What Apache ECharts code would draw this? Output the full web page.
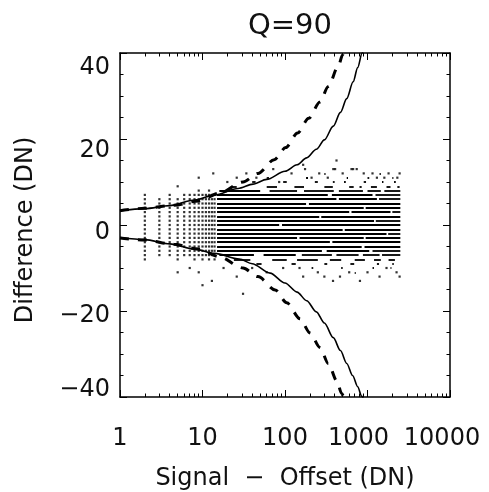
<!DOCTYPE html>
<html><head><meta charset="utf-8">
<script src="https://cdn.jsdelivr.net/npm/echarts@6/dist/echarts.min.js"></script>
<style>html,body{margin:0;padding:0;background:#fff}#c{width:489px;height:492px}</style>
</head><body><div id="c"></div>
<script>
// ---- tick labels / ticks ----
const xMajorTicks = [1, 10, 100, 1000, 10000];
const xMinorTicks = [2,3,4,5,6,7,8,9, 20,30,40,50,60,70,80,90, 200,300,400,500,600,700,800,900, 2000,3000,4000,5000,6000,7000,8000,9000];
const yTickLabels = [-40, -20, 0, 20, 40];

// ---- curves ----
const solidUpperX = [1, 2, 4, 8, 14, 27, 41, 60, 100, 140, 183, 240, 300, 385, 470, 560, 670, 760, 860, 960];
const solidUpperY = [3.3, 3.8, 4.5, 5.8, 7.0, 8.5, 9.5, 10.6, 12.5, 14.0, 15.6, 17.6, 19.8, 23.0, 26.2, 29.4, 33.3, 36.6, 40.0, 43.2];
const solidLowerX = [1, 2, 4, 8, 14, 28, 40, 66, 100, 140, 183, 240, 300, 385, 470, 560, 660, 760, 850, 950];
const solidLowerY = [-2.9, -3.4, -4.4, -5.6, -6.6, -7.9, -9.0, -11.2, -13.5, -15.6, -17.6, -20.2, -22.8, -26.2, -29.2, -32.2, -35.0, -37.6, -39.8, -42.2];
const dashUpperX = [1, 2, 4.5, 9, 16, 31, 47, 74, 102, 142, 194, 265, 335, 443, 500, 540];
const dashUpperY = [3.3, 3.9, 4.6, 5.6, 7.4, 10.0, 12.0, 15.2, 18.0, 21.4, 24.8, 28.6, 32.2, 37.0, 39.6, 41.4];
const dashLowerX = [1, 2, 4.5, 9, 16, 31, 47, 76, 105, 152, 201, 266, 335, 423, 487, 540];
const dashLowerY = [-3.0, -3.5, -4.5, -5.6, -7.4, -10.0, -12.0, -15.1, -18.1, -21.8, -25.1, -28.5, -32.2, -36.2, -39.2, -41.4];

// ---- scatter: low-signal columns (integer signal, every integer difference from lo to hi) ----
const colX  = [2, 3, 4, 5, 6, 7, 8, 9, 10, 11, 12, 13, 14];
const colLo = [-8, -7, -7, -8, -7, -7, -8, -7, -8, -7, -8, -7, -8];
const colHi = [7, 6, 7, 6, 7, 7, 7, 8, 7, 7, 8, 7, 7];

// ---- scatter: runs of points at integer differences (level, fromSignal, toSignal) ----
const runs = [
  [12, 300, 310], [12, 1400, 1450],
  [11, 60, 64], [11, 180, 190], [11, 560, 580], [11, 1000, 1050], [11, 2000, 2060],
  [10, 40, 44], [10, 95, 105], [10, 230, 250], [10, 380, 400], [10, 520, 545], [10, 900, 960], [10, 1500, 1560], [10, 2100, 2200],
  [9, 22, 26], [9, 60, 80], [9, 130, 170], [9, 300, 380], [9, 600, 680], [9, 800, 850], [9, 1100, 1300], [9, 1700, 1900], [9, 2300, 2450],
  [8, 16, 50], [8, 65, 140], [8, 170, 390], [8, 450, 880], [8, 1000, 1450], [8, 1600, 2500],
  [7, 15, 330], [7, 370, 1150], [7, 1250, 2500],
  [6, 15, 420], [6, 450, 1300], [6, 1380, 2500],
  [5, 15, 180], [5, 195, 2500],
  [4, 15, 900], [4, 950, 2500],
  [3, 15, 600], [3, 640, 1900], [3, 2000, 2500],
  [2, 15, 260], [2, 275, 2500],
  [1, 15, 1200], [1, 1260, 2500],
  [0, 15, 85], [0, 92, 2500],
  [-1, 15, 500], [-1, 530, 2500],
  [-2, 15, 1700], [-2, 1780, 2500],
  [-3, 15, 140], [-3, 150, 900], [-3, 950, 2500],
  [-4, 15, 350], [-4, 375, 2500],
  [-5, 15, 850], [-5, 920, 2500],
  [-6, 15, 280], [-6, 320, 1050], [-6, 1150, 2500],
  [-7, 16, 42], [-7, 55, 135], [-7, 160, 370], [-7, 420, 780], [-7, 880, 1400], [-7, 1500, 2500],
  [-8, 24, 38], [-8, 70, 105], [-8, 140, 250], [-8, 350, 480], [-8, 700, 930], [-8, 1200, 1450], [-8, 1800, 2150],
  [-9, 45, 52], [-9, 120, 135], [-9, 300, 325], [-9, 620, 690], [-9, 1300, 1380], [-9, 2000, 2080],
  [-10, 210, 220], [-10, 480, 500], [-10, 1150, 1200], [-10, 1900, 1950],
  [-11, 700, 720]
];

// ---- scatter: isolated outliers [signal, difference] ----
const outliers = [
  [5, 9], [9, 11], [13.5, 12], [20, 10], [26, 11], [34, 12], [45, 11], [72, 13], [85, 10], [120, 12], [166, 14], [175, 13],
  [210, 11], [260, 12], [330, 11], [385, 13], [405, 13], [421, 15], [500, 12], [640, 13], [670, 13], [740, 13], [900, 12],
  [1150, 12], [1300, 11], [1600, 11], [1800, 12], [2300, 11], [2450, 12],
  [5, -11], [7, -10], [9, -11], [10, -14], [13, -13], [18, -10], [26, -12], [31, -16], [40, -10], [60, -11], [95, -10], [150, -10],
  [166, -12], [250, -11], [300, -12], [382, -13], [464, -12], [600, -11], [810, -13], [1000, -11], [1400, -12], [1700, -10], [2250, -11], [2450, -12]
];

const FONT = 'DejaVu Sans';
const INK = '#111';

const zip = (xs, ys) => xs.map((x, i) => [x, ys[i]]);
const colPts = [];
colX.forEach((x, i) => { for (let v = colLo[i]; v <= colHi[i]; v++) colPts.push([x, v]); });
const runLines = runs.map(r => ({ coords: [[r[1], r[0]], [r[2], r[0]]] }));

const yShift = { '40': 15, '20': 12, '0': 8, '-20': 5, '-40': -7 };
const yRich = {};
yTickLabels.forEach(v => {
  const d = yShift[String(v)];
  yRich['k' + (v < 0 ? 'm' + (-v) : v)] = {
    fontSize: 24, fontFamily: FONT, color: INK,
    padding: d >= 0 ? [2 * d, 0, 0, 0] : [0, 0, -2 * d, 0]
  };
});
const xRich = {
  a: { fontSize: 24, fontFamily: FONT, color: INK },
  b: { fontSize: 24, fontFamily: FONT, color: INK, padding: [0, 18, 0, 0] },
  c: { fontSize: 24, fontFamily: FONT, color: INK, padding: [0, 16, 0, 0] }
};

const axisLineStyle = { color: '#000', width: 1.5 };
const gridRect = { left: 120, right: 39, top: 53, bottom: 95, containLabel: false, outerBoundsMode: 'none' };

function logAxis(grid, pos, ticks, len, showLine, labels) {
  const ax = {
    gridIndex: grid, type: 'log', logBase: 10, min: 1, max: 10000, position: pos,
    axisLine: { show: showLine, onZero: false, lineStyle: axisLineStyle },
    axisTick: { show: true, inside: true, length: len, customValues: ticks, lineStyle: { color: '#000', width: 1 } },
    axisLabel: { show: false },
    splitLine: { show: false }, minorTick: { show: false }, minorSplitLine: { show: false }
  };
  if (labels) {
    ax.axisLabel = {
      show: true, customValues: xMajorTicks, margin: 30,
      formatter: v => {
        const n = Math.round(v);
        const k = n === 1000 ? 'b' : (n === 10000 ? 'c' : 'a');
        return '{' + k + '|' + n + '}';
      },
      rich: xRich
    };
    ax.name = 'Signal  \u2212  Offset (DN)';
    ax.nameLocation = 'middle';
    ax.nameGap = 70;
    ax.nameTextStyle = { fontSize: 24, fontFamily: FONT, color: INK };
  }
  return ax;
}

function valAxis(grid, pos, labels) {
  const ax = {
    gridIndex: grid, type: 'value', min: -40, max: 40, interval: 20, position: pos,
    axisLine: { show: true, onZero: false, lineStyle: axisLineStyle },
    axisTick: { show: true, inside: true, length: 7, lineStyle: { color: '#000', width: 1 } },
    minorTick: { show: true, splitNumber: 4, length: 3.5, lineStyle: { color: '#000', width: 1 } },
    axisLabel: { show: false },
    splitLine: { show: false }, minorSplitLine: { show: false }
  };
  if (labels) {
    ax.axisLabel = {
      show: true, margin: 10,
      formatter: v => {
        const key = 'k' + (v < 0 ? 'm' + (-v) : v);
        return '{' + key + '|' + (v < 0 ? '\u2212' + (-v) : String(v)) + '}';
      },
      rich: yRich
    };
    ax.name = 'Difference (DN)';
    ax.nameLocation = 'middle';
    ax.nameGap = 82;
    ax.nameTextStyle = { fontSize: 24, fontFamily: FONT, color: INK, padding: [0, 10, 0, 0] };
  }
  return ax;
}

const chart = echarts.init(document.getElementById('c'), null, { renderer: 'canvas' });
chart.setOption({
  animation: false,
  backgroundColor: '#fff',
  title: {
    text: 'Q=90', left: 285, top: 7, textAlign: 'center',
    textStyle: { fontSize: 29, fontWeight: 'normal', fontFamily: FONT, color: INK }
  },
  grid: [Object.assign({}, gridRect), Object.assign({}, gridRect)],
  xAxis: [
    logAxis(0, 'bottom', xMajorTicks, 7, true, true),
    logAxis(0, 'top', xMajorTicks, 7, true, false),
    logAxis(1, 'bottom', xMinorTicks, 3.5, false, false),
    logAxis(1, 'top', xMinorTicks, 3.5, false, false)
  ],
  yAxis: [
    valAxis(0, 'left', true),
    valAxis(0, 'right', false),
    { gridIndex: 1, type: 'value', min: -40, max: 40, show: false }
  ],
  series: [
    {
      type: 'lines', coordinateSystem: 'cartesian2d', xAxisIndex: 0, yAxisIndex: 0,
      data: runLines, lineStyle: { color: '#000', width: 1.8, opacity: 1 }, silent: true, z: 2
    },
    {
      type: 'scatter', xAxisIndex: 0, yAxisIndex: 0, data: colPts,
      symbol: 'rect', symbolSize: 2.2, itemStyle: { color: '#000' }, silent: true, z: 2
    },
    {
      type: 'scatter', xAxisIndex: 0, yAxisIndex: 0, data: outliers,
      symbol: 'rect', symbolSize: 2.2, itemStyle: { color: '#000' }, silent: true, z: 2
    },
    {
      type: 'line', xAxisIndex: 0, yAxisIndex: 0, data: zip(solidUpperX, solidUpperY), smooth: 0.3, smoothMonotone: 'x',
      showSymbol: false, lineStyle: { color: '#000', width: 1.6 }, z: 5, clip: true
    },
    {
      type: 'line', xAxisIndex: 0, yAxisIndex: 0, data: zip(solidLowerX, solidLowerY), smooth: 0.3, smoothMonotone: 'x',
      showSymbol: false, lineStyle: { color: '#000', width: 1.6 }, z: 5, clip: true
    },
    {
      type: 'line', xAxisIndex: 0, yAxisIndex: 0, data: zip(dashUpperX, dashUpperY), smooth: 0.3, smoothMonotone: 'x',
      showSymbol: false, lineStyle: { color: '#000', width: 3, type: [9, 9] }, z: 5, clip: true
    },
    {
      type: 'line', xAxisIndex: 0, yAxisIndex: 0, data: zip(dashLowerX, dashLowerY), smooth: 0.3, smoothMonotone: 'x',
      showSymbol: false, lineStyle: { color: '#000', width: 3, type: [9, 9] }, z: 5, clip: true
    }
  ]
});
</script>
</body></html>
